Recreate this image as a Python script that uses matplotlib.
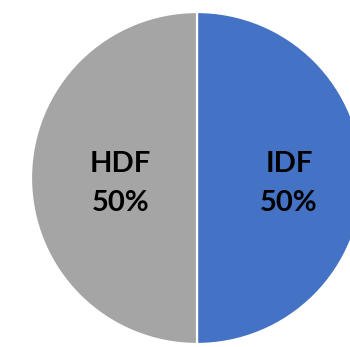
import matplotlib
matplotlib.use("Agg")
import matplotlib.pyplot as plt

categories = ["IDF", "HDF"]
values = [50, 50]
colors = ["#4472C4", "#A5A5A5"]

fig = plt.figure(figsize=(3.5, 3.47), dpi=100)
W, H = 350, 347
cx, cy, r = 197, 178, 166
ax = fig.add_axes([(cx - r) / W, (H - cy - r) / H, 2 * r / W, 2 * r / H])
wedges, _ = ax.pie(values, colors=colors, startangle=90, counterclock=False,
                   radius=1.0, wedgeprops=dict(edgecolor="white", linewidth=1.6))
ax.set_xlim(-1, 1)
ax.set_ylim(-1, 1)
ax.axis("off")

total = sum(values)
label_pos = {"IDF": (0.554, -0.033), "HDF": (-0.46, -0.033)}
for cat, v in zip(categories, values):
    x, y = label_pos[cat]
    ax.text(x, y, f"{cat}\n{v / total * 100:.0f}%", ha="center", va="center",
            fontsize=21, fontweight="bold", family=["Lato", "DejaVu Sans"],
            linespacing=1.62, color="black")

fig.savefig("out.png", dpi=100)
